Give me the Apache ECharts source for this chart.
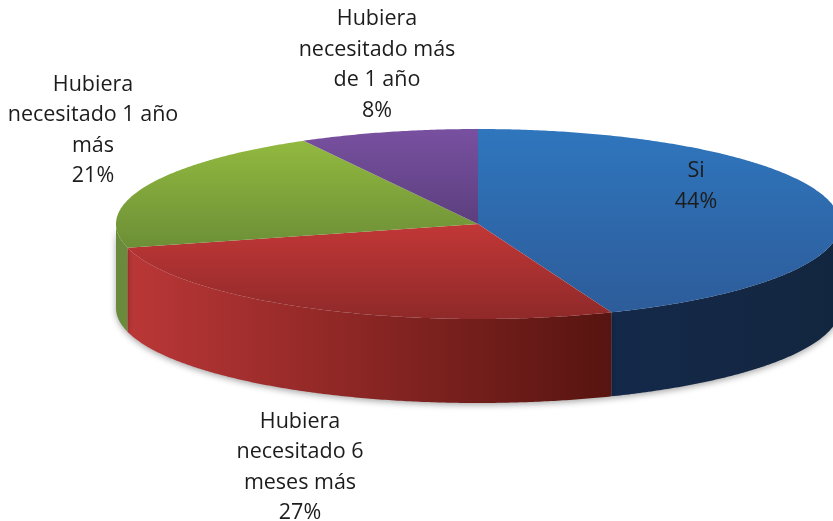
<!DOCTYPE html>
<html>
<head>
<meta charset="utf-8">
<style>html,body{margin:0;padding:0;background:#fff}#c{width:833px;height:521px}</style>
<script src="https://cdn.jsdelivr.net/npm/echarts@6/dist/echarts.min.js"></script>
</head>
<body>
<div id="c"></div>
<script>
var categories = ['Si', 'Hubiera\nnecesitado 6\nmeses más', 'Hubiera\nnecesitado 1 año\nmás', 'Hubiera\nnecesitado más\nde 1 año'];
var values = [44, 27, 21, 8];

// Layout of the tilted disc
var CX = 478, CY = 224, RX = 362, RY = 95, DEPTH = 84;
var labelCentres = [[696, 186.5], [300, 467.5], [93, 130.5], [377, 65]];
var topColours = [['#2f76bd', '#2d5c9a'], ['#c23737', '#8f2929'], ['#92b93f', '#6c8f37'], ['#7850a0', '#5c3f7e']];
var wallColours = [['#14294a', '#13263f'], ['#bb3737', '#571410'], ['#6a8b3b', '#6a8b3b'], ['#5c3f7e', '#5c3f7e']];

var total = values.reduce(function (a, b) { return a + b; }, 0);
function startOf(i) {
  var s = 0;
  for (var k = 0; k < i; k++) s += values[k];
  return s / total * 360;
}
function pt(deg, dy) {
  var r = deg * Math.PI / 180;
  return [CX + RX * Math.sin(r), CY - RY * Math.cos(r) + dy];
}
function arc(a, b, dy) {
  var out = [], n = Math.max(2, Math.ceil(Math.abs(b - a) * 2));
  for (var i = 0; i <= n; i++) out.push(pt(a + (b - a) * i / n, dy));
  return out;
}
function grad(x1, y1, x2, y2, c) {
  return new echarts.graphic.LinearGradient(x1, y1, x2, y2, [{ offset: 0, color: c[0] }, { offset: 1, color: c[1] }], true);
}
function renderWall(params, api) {
  var i = params.dataIndex;
  var a = Math.max(startOf(i), 90);
  var b = Math.min(startOf(i) + api.value(0) / total * 360, 270);
  if (b <= a) return { type: 'group', children: [] };
  var pts = arc(a, b, 0).concat(arc(b, a, DEPTH));
  var xs = pts.map(function (p) { return p[0]; });
  return {
    type: 'polygon',
    shape: { points: pts },
    style: {
      fill: grad(Math.min.apply(null, xs), 0, Math.max.apply(null, xs), 0, wallColours[i]),
      shadowBlur: 6, shadowColor: 'rgba(0,0,0,0.35)', shadowOffsetY: 2
    }
  };
}
function renderTop(params, api) {
  var i = params.dataIndex;
  var a = startOf(i), b = a + api.value(0) / total * 360;
  var pts = [[CX, CY]].concat(arc(a, b, 0));
  var ys = pts.map(function (p) { return p[1]; });
  return {
    type: 'group',
    children: [
      { type: 'polygon', shape: { points: pts }, style: { fill: grad(0, Math.min.apply(null, ys), 0, Math.max.apply(null, ys), topColours[i]) } },
      {
        type: 'text', z2: 10,
        style: {
          text: categories[i] + '\n' + api.value(0) + '%',
          x: labelCentres[i][0], y: labelCentres[i][1],
          align: 'center', verticalAlign: 'middle',
          font: '21.5px "Open Sans", sans-serif',
          lineHeight: 30.5, fill: '#1c1c1c'
        }
      }
    ]
  };
}
var chart = echarts.init(document.getElementById('c'), null, { renderer: 'canvas' });
chart.setOption({
  animation: false,
  backgroundColor: '#ffffff',
  series: [
    { type: 'custom', name: 'lateral', coordinateSystem: 'none', silent: true, z: 1, data: values.slice(), renderItem: renderWall },
    { type: 'custom', name: 'superficie', coordinateSystem: 'none', silent: true, z: 2, data: values.slice(), renderItem: renderTop }
  ]
});
</script>
</body>
</html>
